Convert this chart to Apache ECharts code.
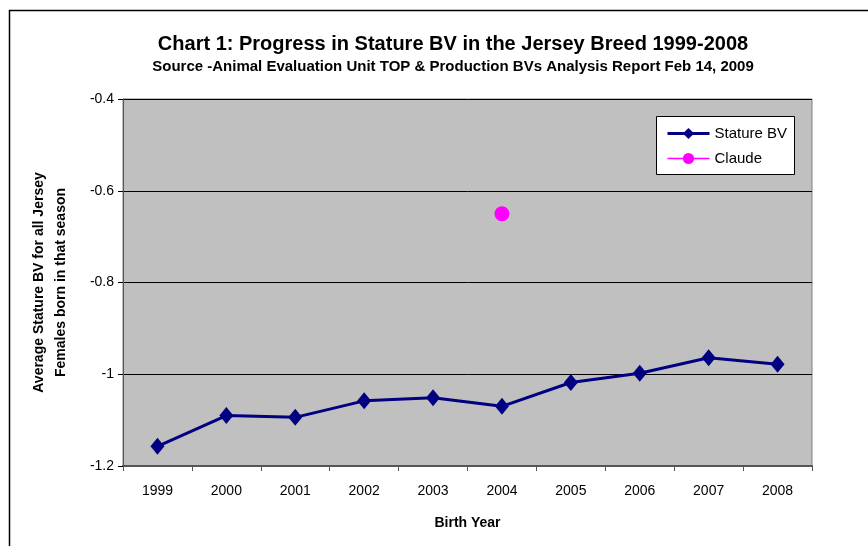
<!DOCTYPE html>
<html>
<head>
<meta charset="utf-8">
<script src="https://cdn.jsdelivr.net/npm/echarts@6/dist/echarts.min.js"></script>
<style>
  html, body { margin: 0; padding: 0; background: #fff; }
  #chart { width: 868px; height: 546px; }
</style>
</head>
<body>
<div id="chart"></div>
<script>
// birth years on the x axis
const years = ['1999', '2000', '2001', '2002', '2003', '2004', '2005', '2006', '2007', '2008'];
// average stature BV per year
const statureBV = [-1.157, -1.090, -1.094, -1.058, -1.051, -1.070, -1.018, -0.998, -0.964, -0.978];
// single Claude point, sits on 2004
const claude = [null, null, null, null, null, -0.65, null, null, null, null];

const chart = echarts.init(document.getElementById('chart'));

const font = 'Liberation Sans, Arial, sans-serif';

chart.setOption({
  animation: false,
  backgroundColor: '#fff',
  textStyle: { fontFamily: font },
  title: [
    {
      text: 'Chart 1: Progress in Stature BV in the Jersey Breed 1999-2008',
      left: 448, top: 29, textAlign: 'center',
      textStyle: { fontSize: 20, fontWeight: 'bold', color: '#000', fontFamily: font }
    },
    {
      text: 'Source -Animal Evaluation Unit TOP & Production BVs Analysis Report Feb 14, 2009',
      left: 448, top: 54, textAlign: 'center',
      textStyle: { fontSize: 15, fontWeight: 'bold', color: '#000', fontFamily: font }
    }
  ],
  graphic: [
    {
      // outer chart frame (only left & top visible)
      type: 'rect', left: 7, top: 8, z: -1,
      shape: { width: 900, height: 600 },
      style: { fill: 'none', stroke: '#000', lineWidth: 1.5 }
    },
    {
      // legend box
      type: 'rect', left: 656, top: 116, z: 10,
      shape: { width: 138, height: 58 },
      style: { fill: '#fff', stroke: '#000', lineWidth: 1 }
    }
  ],
  legend: {
    orient: 'vertical',
    left: 661, top: 121,
    itemGap: 10,
    itemWidth: 42, itemHeight: 14,
    z: 11,
    textStyle: { fontSize: 15, color: '#000', fontFamily: font },
    data: [
      { name: 'Stature BV', lineStyle: { width: 3 } },
      { name: 'Claude', lineStyle: { width: 1.5 } }
    ]
  },
  grid: {
    left: 123, right: 56, top: 99, bottom: 80,
    show: true,
    backgroundColor: '#C0C0C0',
    borderColor: '#808080',
    borderWidth: 1
  },
  xAxis: {
    type: 'category',
    data: years,
    boundaryGap: true,
    name: 'Birth Year',
    nameLocation: 'middle',
    nameGap: 50,
    nameTextStyle: { fontSize: 14, fontWeight: 'bold', color: '#000' },
    axisLine: { lineStyle: { color: '#555', width: 2 } },
    axisTick: { show: true, inside: false, length: 5, lineStyle: { color: '#555' } },
    axisLabel: { fontSize: 14, color: '#000', margin: 18 }
  },
  yAxis: {
    type: 'value',
    min: -1.2, max: -0.4, interval: 0.2,
    name: 'Average Stature BV for all Jersey\nFemales born in that season',
    nameLocation: 'middle',
    nameGap: 51,
    nameTextStyle: { fontSize: 14, fontWeight: 'bold', color: '#000', lineHeight: 22 },
    axisLine: { show: true, lineStyle: { color: '#555', width: 1 } },
    axisTick: { show: true, inside: false, length: 5, lineStyle: { color: '#000' } },
    axisLabel: {
      fontSize: 14, color: '#000', margin: 9,
      formatter: v => String(Math.round(v * 10) / 10)
    },
    splitLine: { show: true, lineStyle: { color: '#000', width: 1 } }
  },
  series: [
    {
      name: 'Stature BV',
      type: 'line',
      data: statureBV,
      symbol: 'diamond',
      symbolSize: [14, 17],
      itemStyle: { color: '#000080' },
      lineStyle: { color: '#000080', width: 3 },
      z: 3
    },
    {
      name: 'Claude',
      type: 'line',
      data: claude,
      symbol: 'circle',
      symbolSize: 15,
      showSymbol: true,
      itemStyle: { color: '#FF00FF' },
      lineStyle: { color: '#FF00FF', width: 1.5 },
      z: 4
    }
  ]
});
</script>
</body>
</html>
